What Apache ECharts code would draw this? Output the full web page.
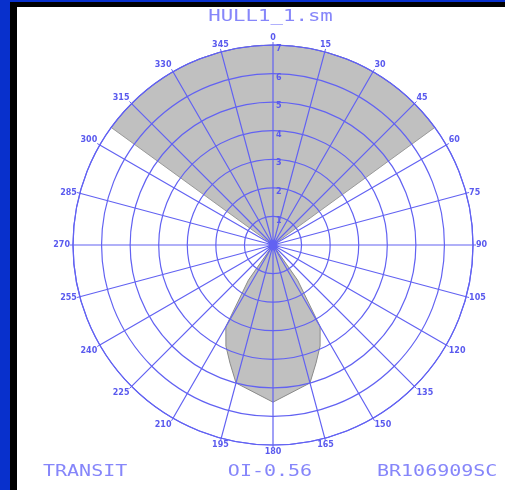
<!DOCTYPE html>
<html>
<head>
<meta charset="utf-8">
<script src="https://cdn.jsdelivr.net/npm/echarts@6/dist/echarts.min.js"></script>
<style>
  html, body { margin: 0; padding: 0; }
  body { width: 505px; height: 490px; background: #0830cc; position: relative; overflow: hidden; }
  #frame { position: absolute; left: 10px; top: 2px; width: 495px; height: 488px; background: #000; }
  #chart { position: absolute; left: 17px; top: 7px; width: 488px; height: 483px; background: #fff; }
</style>
</head>
<body>
<div id="frame"></div>
<div id="chart"></div>
<script>
// Compass bearings (degrees, clockwise from north) and ring values
const bearingTicks = [0, 15, 30, 45, 60, 75, 90, 105, 120, 135, 150, 165,
                      180, 195, 210, 225, 240, 255, 270, 285, 300, 315, 330, 345];
const ringValues = [1, 2, 3, 4, 5, 6, 7];

// Forward sector: full reach between these bearings
const sectorFrom = [306];
const sectorTo = [54];
const sectorReach = [7];

// Aft lobe outline: bearing and reach
const lobeBearings = [140, 145, 150, 155, 160, 165, 180, 195, 200, 205, 210, 215, 220];
const lobeReach    = [0, 1.5, 3.3, 3.9, 4.4, 5.0, 5.5, 5.0, 4.4, 3.9, 3.3, 1.5, 0];

// Header / footer captions
const titleText = 'HULL1_1.sm';
const footLeft = 'TRANSIT';
const footMid = 'OI-0.56';
const footRight = 'BR106909SC';

const gridBlue = '#6262f2';
const textBlue = '#8686fa';
const monoFont = 'DejaVu Sans Mono';

const chart = echarts.init(document.getElementById('chart'), null, { renderer: 'canvas' });

const option = {
  animation: false,
  backgroundColor: '#ffffff',
  polar: { center: [256, 238], radius: 200 },
  angleAxis: {
    type: 'value',
    min: bearingTicks[0],
    max: 360,
    interval: bearingTicks[1] - bearingTicks[0],
    startAngle: 90,
    clockwise: true,
    z: 5,
    axisLine: { show: true, lineStyle: { color: gridBlue, width: 1.2 } },
    axisTick: { show: true, length: 3, lineStyle: { color: gridBlue, width: 1 } },
    axisLabel: {
      show: true, margin: 3, color: '#5a5aee', fontSize: 8,
      fontFamily: 'DejaVu Sans', fontWeight: 'bold'
    },
    splitLine: { show: true, lineStyle: { color: gridBlue, width: 1.2 } }
  },
  radiusAxis: {
    type: 'value',
    min: 0,
    max: ringValues[ringValues.length - 1],
    interval: ringValues[1] - ringValues[0],
    z: 5,
    axisLine: { show: false },
    axisTick: { show: false },
    axisLabel: {
      show: true, showMinLabel: false, margin: -3,
      align: 'left', verticalAlign: 'top',
      color: '#5a5aee', fontSize: 8,
      fontFamily: 'DejaVu Sans', fontWeight: 'bold'
    },
    splitLine: { show: true, lineStyle: { color: gridBlue, width: 1.2 } }
  },
  series: [
    {
      type: 'custom',
      coordinateSystem: 'polar',
      z: 1,
      data: sectorFrom.map((f, i) => [sectorReach[i], f, sectorTo[i]]),
      renderItem: function (params, api) {
        const c = api.coord([0, 0]);
        const edge = api.coord([api.value(0), 0]);
        const r = Math.hypot(edge[0] - c[0], edge[1] - c[1]);
        const toScreen = b => (b - 90) * Math.PI / 180;
        let a0 = toScreen(api.value(1));
        let a1 = toScreen(api.value(2));
        if (a1 < a0) a1 += Math.PI * 2;
        return {
          type: 'sector',
          shape: { cx: c[0], cy: c[1], r0: 0, r: r, startAngle: a0, endAngle: a1, clockwise: true },
          style: { fill: '#c0c0c0', stroke: '#9a9a9a', lineWidth: 1 }
        };
      }
    },
    {
      type: 'line',
      coordinateSystem: 'polar',
      z: 1,
      symbol: 'none',
      data: lobeBearings.map((b, i) => [lobeReach[i], b]),
      lineStyle: { color: '#8a8a8a', width: 1 },
      areaStyle: { color: '#c0c0c0', opacity: 1 }
    }
  ],
  graphic: [
    {
      type: 'text', x: 253.5, y: 10.5, scaleX: 1.38, z: 10,
      style: { text: titleText, font: '15px "' + monoFont + '"', fill: textBlue,
               textAlign: 'center', textVerticalAlign: 'middle' }
    },
    {
      type: 'text', x: 26, y: 465, scaleX: 1.25, z: 10,
      style: { text: footLeft, font: '16px "' + monoFont + '"', fill: textBlue,
               textAlign: 'left', textVerticalAlign: 'middle' }
    },
    {
      type: 'text', x: 253, y: 465, scaleX: 1.25, z: 10,
      style: { text: footMid, font: '16px "' + monoFont + '"', fill: textBlue,
               textAlign: 'center', textVerticalAlign: 'middle' }
    },
    {
      type: 'text', x: 360, y: 465, scaleX: 1.25, z: 10,
      style: { text: footRight, font: '16px "' + monoFont + '"', fill: textBlue,
               textAlign: 'left', textVerticalAlign: 'middle' }
    }
  ]
};

chart.setOption(option);
</script>
</body>
</html>
